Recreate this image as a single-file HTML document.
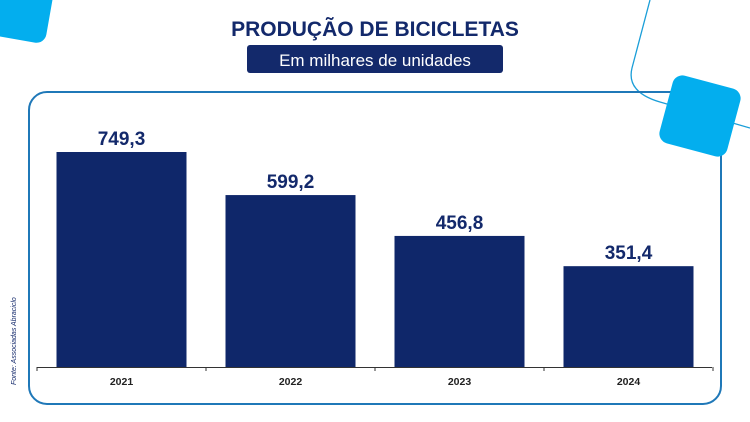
<!DOCTYPE html>
<html><head><meta charset="utf-8"><style>
body{margin:0;width:750px;height:422px;background:#fff;overflow:hidden;position:relative;font-family:"Liberation Sans",sans-serif}
</style></head><body>
<svg width="750" height="422" style="position:absolute;left:0;top:0">
<rect x="-28" y="-40" width="80" height="78" rx="10" fill="#03aeee" transform="rotate(10 12 -1)"/>
<path d="M650 0 L632 68 Q626 92 660 102 L750 128" fill="none" stroke="#1a9ed8" stroke-width="1.3"/>
<rect x="29" y="92" width="692" height="312" rx="18" fill="none" stroke="#1f78b8" stroke-width="2"/>
<rect x="665" y="81" width="70" height="70" rx="10" fill="#03aeee" transform="rotate(15 700 116)"/>
<text x="375" y="36" text-anchor="middle" font-size="21" font-weight="bold" fill="#13296b">PRODUÇÃO DE BICICLETAS</text>
<rect x="247" y="45" width="256" height="28" rx="3" fill="#13296b"/>
<text x="375" y="66" text-anchor="middle" font-size="17" fill="#fff">Em milhares de unidades</text>
<text transform="translate(16,385) rotate(-90)" font-size="7" font-style="italic" fill="#13296b">Fonte: Associadas Abraciclo</text>
<g id="bars"></g>
<line x1="37" y1="367.5" x2="712" y2="367.5" stroke="#333" stroke-width="1"/>
</svg>
<script>
const categories=["2021","2022","2023","2024"];
const values=[749.3,599.2,456.8,351.4];
const labels=["749,3","599,2","456,8","351,4"];
const g=document.getElementById('bars');
const ns="http://www.w3.org/2000/svg";
const x0=37,bandW=169,base=367,scale=215/749.3,barW=130;
const xs=i=>x0+i*bandW;
const ys=v=>base-v*scale;
categories.forEach((c,i)=>{
 const r=document.createElementNS(ns,'rect');
 
 
 r.setAttribute('x',xs(i)+(bandW-barW)/2);r.setAttribute('y',ys(values[i]));
 r.setAttribute('width',barW);r.setAttribute('height',base-ys(values[i]));r.setAttribute('fill','#0f276a');
 g.appendChild(r);
 const t=document.createElementNS(ns,'text');
 
 
 t.setAttribute('x',xs(i)+bandW/2);t.setAttribute('y',ys(values[i])-7);
 t.setAttribute('text-anchor','middle');t.setAttribute('font-size','19');t.setAttribute('font-weight','bold');t.setAttribute('fill','#13296b');
 t.textContent=labels[i];g.appendChild(t);
 const k=document.createElementNS(ns,'text');
 
 
 k.setAttribute('x',xs(i)+bandW/2);k.setAttribute('y',385);
 k.setAttribute('text-anchor','middle');k.setAttribute('font-size','10.5');k.setAttribute('font-weight','bold');k.setAttribute('fill','#222');
 k.textContent=c;g.appendChild(k);
});
for(let i=0;i<=categories.length;i++){
 const l=document.createElementNS(ns,'line');
 
 
 l.setAttribute('x1',xs(i));l.setAttribute('x2',xs(i));l.setAttribute('y1',367);l.setAttribute('y2',371);
 l.setAttribute('stroke','#333');g.appendChild(l);
}
</script>
</body></html>
